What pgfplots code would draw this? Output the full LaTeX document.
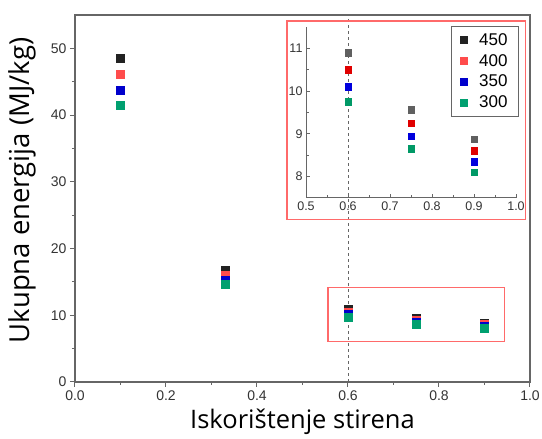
\documentclass[border=0pt]{standalone}
\usepackage{pgfplots}
\pgfplotsset{compat=1.18}
\usepackage{fontspec}
\setmainfont{Liberation Sans}
\newfontfamily\labelfont{Open Sans}
\definecolor{cblack}{HTML}{222222}
\definecolor{cred}{HTML}{FF4C4C}
\definecolor{cblue}{HTML}{0000CC}
\definecolor{cgreen}{HTML}{00A070}
\definecolor{igray}{HTML}{606060}
\definecolor{ired}{HTML}{E00000}
\definecolor{iblue}{HTML}{0000DD}
\definecolor{igreen}{HTML}{009966}
\definecolor{axgray}{HTML}{666666}
\definecolor{txgray}{HTML}{333333}
\definecolor{boxred}{HTML}{FF6A6A}
\begin{document}
\begin{tikzpicture}
\useasboundingbox (-75pt,-57pt) rectangle (467pt,382pt);
\begin{axis}[
  at={(0pt,0pt)}, anchor=south west,
  scale only axis, width=455pt, height=367pt,
  xmin=0, xmax=1, ymin=0, ymax=55,
  xtick={0,0.2,0.4,0.6,0.8,1.0},
  ytick={0,10,20,30,40,50},
  minor tick num=1,
  tick pos=left,
  tick align=outside,
  major tick length=5pt, minor tick length=3pt,
  axis line style={axgray, line width=1.3pt},
  every tick/.style={axgray, line width=1pt},
  /pgf/number format/assume math mode=true,
  xticklabel style={/pgf/number format/.cd, fixed, fixed zerofill, precision=1},
  ticklabel style={font=\fontsize{14}{16}\selectfont, text=txgray},
  xlabel={Iskorištenje stirena},
  ylabel={Ukupna energija (MJ/kg)},
  xlabel style={font=\labelfont\fontsize{25.5}{28}\selectfont, at={(axis description cs:0.5,0)}, anchor=north, yshift=-23pt},
  ylabel style={font=\labelfont\fontsize{27.5}{30}\selectfont, at={(axis description cs:0,0.5)}, anchor=south, xshift=8pt, yshift=35pt},
  clip=false,
]
\draw[axgray, dashed, line width=0.8pt] (axis cs:0.6,0) -- (axis cs:0.6,55);
\draw[boxred, line width=1.1pt] (axis cs:0.556,6.1) rectangle (axis cs:0.943,14.2);
\draw[boxred, line width=1.1pt] (axis cs:0.466,24.3) rectangle (axis cs:0.991,54.1);
\addplot[only marks, mark=square*, mark size=4pt, cblack] coordinates {(0.1,48.5) (0.33,16.7) (0.6,10.9) (0.75,9.57) (0.9,8.87)};
\addplot[only marks, mark=square*, mark size=4pt, cred] coordinates {(0.1,46.1) (0.33,16.0) (0.6,10.5) (0.75,9.25) (0.9,8.61)};
\addplot[only marks, mark=square*, mark size=4pt, cblue] coordinates {(0.1,43.8) (0.33,15.3) (0.6,10.1) (0.75,8.94) (0.9,8.35)};
\addplot[only marks, mark=square*, mark size=4pt, cgreen] coordinates {(0.1,41.5) (0.33,14.6) (0.6,9.75) (0.75,8.65) (0.9,8.10)};
\end{axis}
\begin{axis}[
  at={(231pt,184pt)}, anchor=south west,
  scale only axis, width=210pt, height=171pt,
  xmin=0.5, xmax=1.0, ymin=7.5, ymax=11.5,
  xtick={0.5,0.6,0.7,0.8,0.9,1.0},
  ytick={8,9,10,11},
  minor tick num=1,
  axis x line*=bottom, axis y line*=left,
  tick align=inside,
  major tick length=4pt, minor tick length=2.5pt,
  axis line style={axgray, line width=1pt},
  every tick/.style={axgray, line width=0.8pt},
  /pgf/number format/assume math mode=true,
  xticklabel style={/pgf/number format/.cd, fixed, fixed zerofill, precision=1},
  yticklabel style={/pgf/number format/.cd, fixed, precision=0},
  ticklabel style={font=\fontsize{12.5}{14}\selectfont, text=txgray},
  legend style={at={(axis description cs:1.014,1.006)}, anchor=north east,
    draw=axgray, line width=0.8pt, font=\fontsize{17}{18}\selectfont,
    row sep=3.5pt, inner xsep=9pt, inner ysep=5pt,
    nodes={inner sep=2pt}},
  legend cell align=left,
  legend image code/.code={\draw[#1, only marks] plot coordinates {(0.3cm,0cm)};},
]
\addlegendimage{only marks, mark=square*, mark size=3.6pt, cblack}
\addlegendentry{\hspace{10pt}450}
\addlegendimage{only marks, mark=square*, mark size=3.6pt, cred}
\addlegendentry{\hspace{10pt}400}
\addlegendimage{only marks, mark=square*, mark size=3.6pt, cblue}
\addlegendentry{\hspace{10pt}350}
\addlegendimage{only marks, mark=square*, mark size=3.6pt, cgreen}
\addlegendentry{\hspace{10pt}300}
\addplot[forget plot, only marks, mark=square*, mark size=3.2pt, igray] coordinates {(0.6,10.9) (0.75,9.57) (0.9,8.87)};
\addplot[forget plot, only marks, mark=square*, mark size=3.2pt, ired] coordinates {(0.6,10.5) (0.75,9.25) (0.9,8.61)};
\addplot[forget plot, only marks, mark=square*, mark size=3.2pt, iblue] coordinates {(0.6,10.1) (0.75,8.94) (0.9,8.35)};
\addplot[forget plot, only marks, mark=square*, mark size=3.2pt, igreen] coordinates {(0.6,9.75) (0.75,8.65) (0.9,8.10)};
\end{axis}
\end{tikzpicture}
\end{document}
